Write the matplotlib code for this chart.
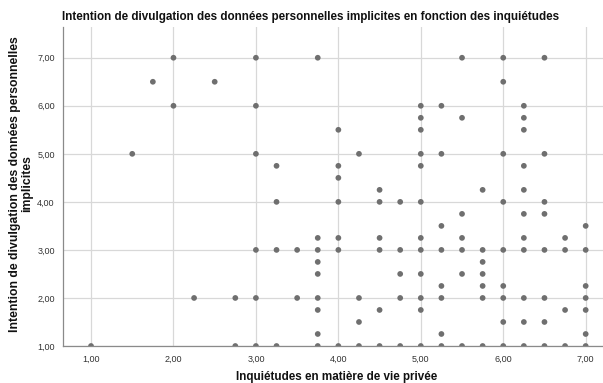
import matplotlib
matplotlib.use("Agg")
import matplotlib.pyplot as plt
from matplotlib.ticker import FuncFormatter

plt.rcParams['font.family'] = ['Liberation Sans', 'DejaVu Sans']

title = "Intention de divulgation des données personnelles implicites en fonction des inquiétudes"
x_label = "Inquiétudes en matière de vie privée"
y_label = "Intention de divulgation des données personnelles\nimplicites"

# Observations: privacy concern score (x) and disclosure intention score (y)
inquietudes = [
    2.0, 1.75, 2.5, 2.0, 1.5,
    3.0, 3.75, 3.0, 4.0, 5.0, 5.0, 5.0, 5.25, 3.0, 3.25, 4.0, 4.0, 4.25, 5.0, 5.0, 5.25, 4.5,
    5.5, 6.0, 6.5, 6.0, 6.25, 5.5, 6.25, 6.25, 6.0, 6.5, 6.25, 5.75, 6.25,
    2.25, 2.75, 1.0, 2.75,
    3.25, 4.0, 4.5, 4.75, 5.0, 3.75, 4.0, 4.5, 5.0,
    3.0, 3.25, 3.5, 3.75, 4.0, 4.5, 4.75, 5.0, 5.25,
    3.75, 3.75, 4.75, 5.0, 5.25,
    3.0, 3.5, 3.75, 4.25, 4.75, 5.0, 5.25,
    3.75, 4.5, 5.0, 4.25, 3.75,
    3.0, 3.25, 3.75, 4.0, 4.25, 4.5, 4.75, 5.0, 5.25,
    6.0, 6.5, 5.5, 6.25, 6.5, 5.25, 7.0, 5.5, 6.25, 6.75,
    5.5, 5.75, 6.0, 6.25, 6.5, 6.75, 7.0,
    5.75, 5.5, 5.75,
    5.75, 6.0, 7.0,
    5.75, 6.0, 6.25, 6.5, 7.0,
    6.75, 7.0,
    6.0, 6.25, 6.5,
    5.25, 7.0,
    5.5, 5.75, 6.0, 6.25, 6.5, 6.75, 7.0,
]
intention = [
    7.0, 6.5, 6.5, 6.0, 5.0,
    7.0, 7.0, 6.0, 5.5, 6.0, 5.75, 5.5, 6.0, 5.0, 4.75, 4.75, 4.5, 5.0, 5.0, 4.75, 5.0, 4.25,
    7.0, 7.0, 7.0, 6.5, 6.0, 5.75, 5.75, 5.5, 5.0, 5.0, 4.75, 4.25, 4.25,
    2.0, 2.0, 1.0, 1.0,
    4.0, 4.0, 4.0, 4.0, 4.0, 3.25, 3.25, 3.25, 3.25,
    3.0, 3.0, 3.0, 3.0, 3.0, 3.0, 3.0, 3.0, 3.0,
    2.75, 2.5, 2.5, 2.5, 2.25,
    2.0, 2.0, 2.0, 2.0, 2.0, 2.0, 2.0,
    1.75, 1.75, 1.75, 1.5, 1.25,
    1.0, 1.0, 1.0, 1.0, 1.0, 1.0, 1.0, 1.0, 1.0,
    4.0, 4.0, 3.75, 3.75, 3.75, 3.5, 3.5, 3.25, 3.25, 3.25,
    3.0, 3.0, 3.0, 3.0, 3.0, 3.0, 3.0,
    2.75, 2.5, 2.5,
    2.25, 2.25, 2.25,
    2.0, 2.0, 2.0, 2.0, 2.0,
    1.75, 1.75,
    1.5, 1.5, 1.5,
    1.25, 1.25,
    1.0, 1.0, 1.0, 1.0, 1.0, 1.0, 1.0,
]

x_ticks = [1, 2, 3, 4, 5, 6, 7]
y_ticks = [1, 2, 3, 4, 5, 6, 7]

fig = plt.figure(figsize=(6.03, 3.83), dpi=100)
W, H = 603, 383
left, right, top, bottom = 63, 603, 27, 346
ax = fig.add_axes([left / W, (H - bottom) / H, (right - left) / W, (bottom - top) / H])

ax.scatter(inquietudes, intention, s=17, color="#6f6f6f", edgecolors="none", zorder=3)

ax.set_xlim(0.66, 7.21)
ax.set_ylim(1.0, 7.64)
ax.set_xticks(x_ticks)
ax.set_yticks(y_ticks)
fmt = FuncFormatter(lambda v, p: f"{v:.2f}".replace(".", ","))
ax.xaxis.set_major_formatter(fmt)
ax.yaxis.set_major_formatter(fmt)
ax.tick_params(axis="both", length=0, labelsize=6.5, labelcolor="#333333")
ax.tick_params(axis="x", pad=6)
ax.tick_params(axis="y", pad=6)

ax.grid(True, color="#d8d8d8", linewidth=0.9, zorder=0)
ax.set_axisbelow(True)
for side in ("top", "right"):
    ax.spines[side].set_visible(False)
for side in ("left", "bottom"):
    ax.spines[side].set_color("#8a8a8a")
    ax.spines[side].set_linewidth(0.9)
    ax.spines[side].set_zorder(4)

fig.text(62 / W, 1 - 17 / H, title, ha="left", va="center", fontsize=8.4,
         fontweight="bold", color="#111111")
fig.text(337 / W, 1 - 377 / H, x_label, ha="center", va="center", fontsize=8.4,
         fontweight="bold", color="#111111")
fig.text(21.5 / W, 1 - 184 / H, y_label, ha="center", va="center", rotation=90,
         fontsize=8.8, fontweight="bold", color="#111111", linespacing=1.0)

fig.savefig("out.png", dpi=100)
